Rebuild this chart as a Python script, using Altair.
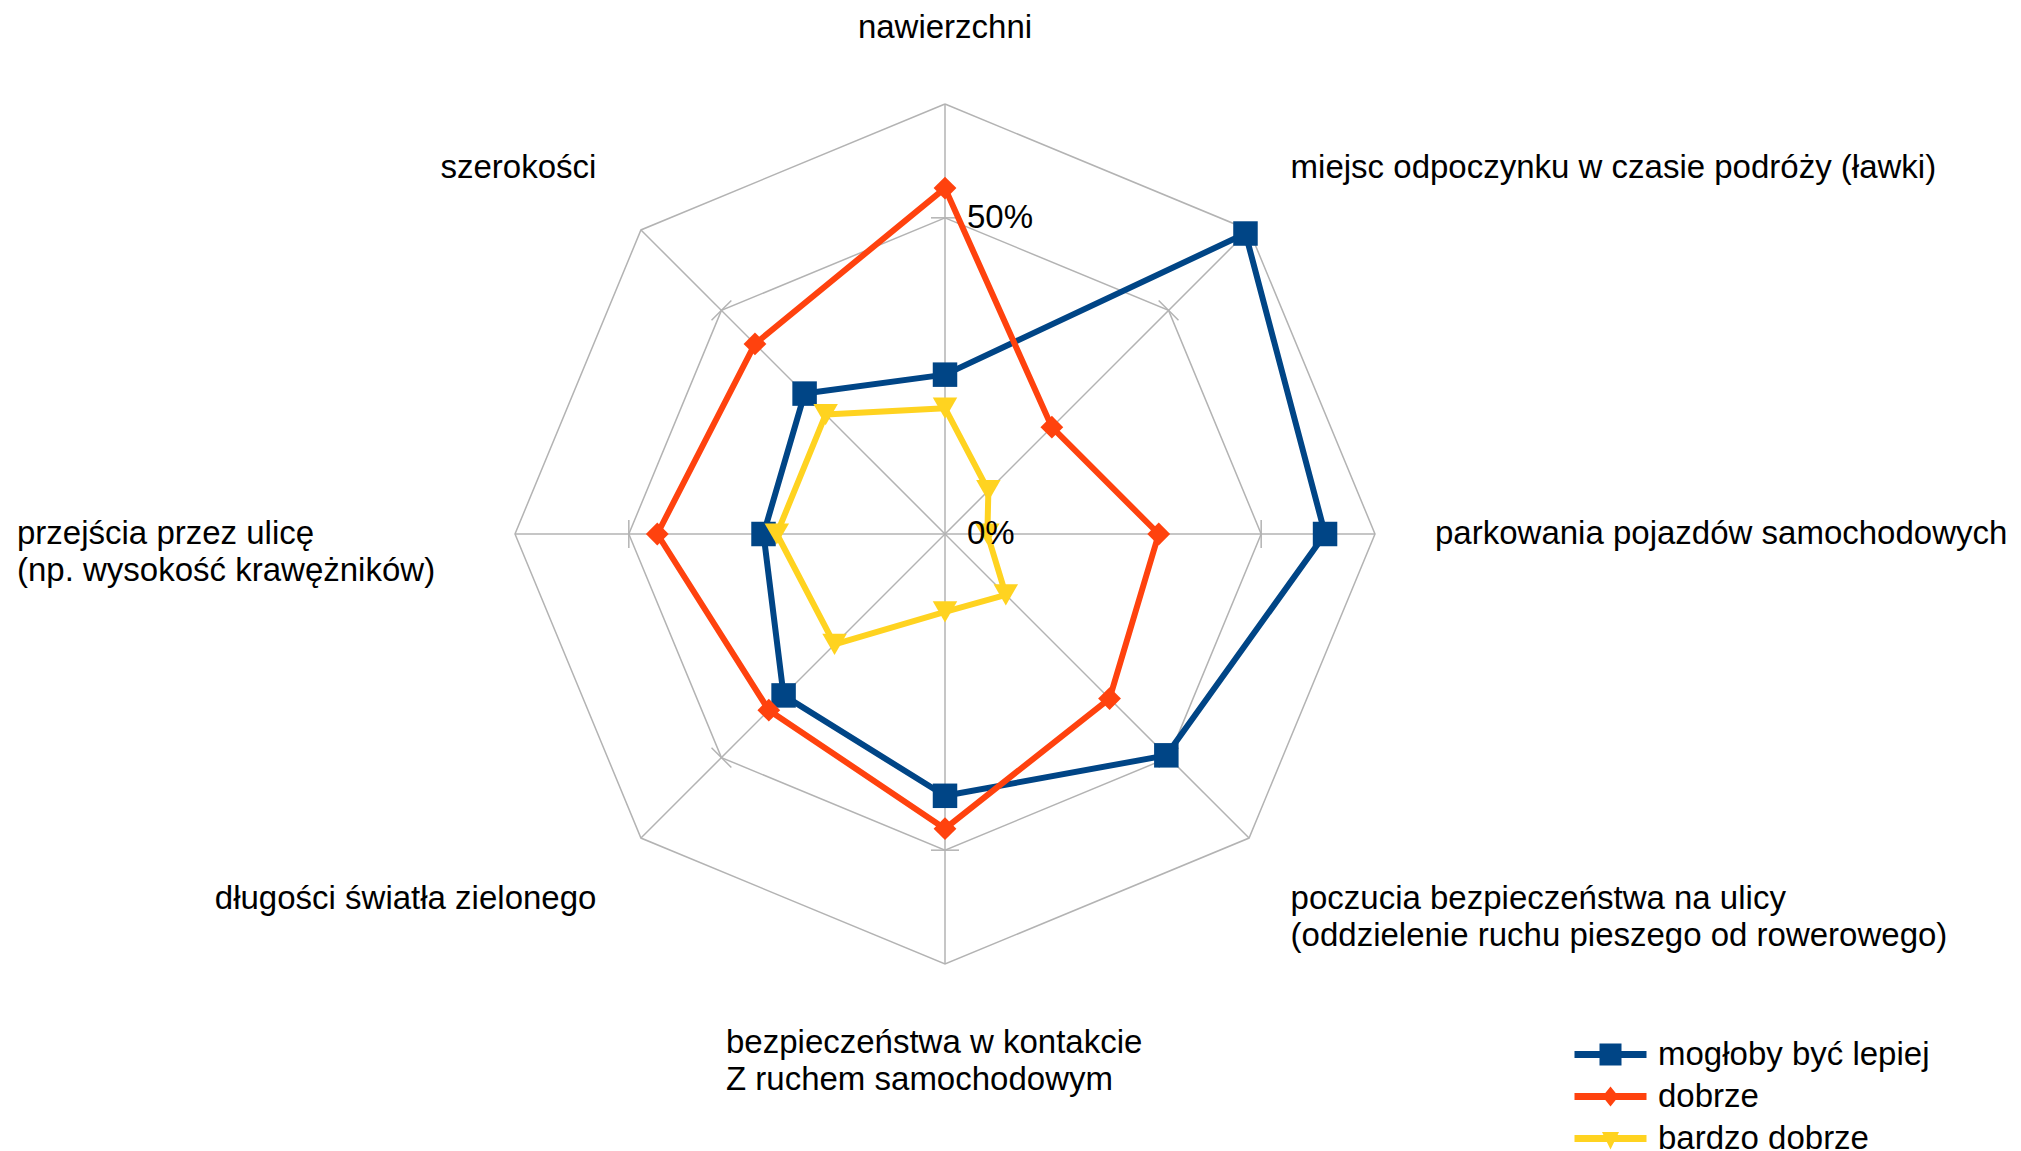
import math
import altair as alt
import pandas as pd

# ---------------- data ----------------
CATEGORIES = [
    "nawierzchni",
    "miejsc odpoczynku w czasie podróży (ławki)",
    "parkowania pojazdów samochodowych",
    "poczucia bezpieczeństwa na ulicy\n(oddzielenie ruchu pieszego od rowerowego)",
    "bezpieczeństwa w kontakcie\nZ ruchem samochodowym",
    "długości światła zielonego",
    "przejścia przez ulicę\n(np. wysokość krawężników)",
    "szerokości",
]
SERIES = ["mogłoby być lepiej", "dobrze", "bardzo dobrze"]
VALUES_LEPIEJ = [0.252, 0.672, 0.601, 0.495, 0.414, 0.361, 0.287, 0.314]
VALUES_DOBRZE = [0.547, 0.239, 0.338, 0.368, 0.466, 0.394, 0.455, 0.425]
VALUES_BARDZO = [0.199, 0.097, 0.067, 0.136, 0.123, 0.247, 0.266, 0.267]
TICK_VALUES = [0.0, 0.5]
TICK_LABELS = ["0%", "50%"]
GRID_LEVELS = [0.5, 0.68]
AXIS_MAX = 0.68

# ---------------- styles / layout ----------------
COLORS = ["#004586", "#ff420e", "#ffd320"]
MARKERS = ["square", "diamond", "triangle-down"]
MARKER_SIZES = [600, 520, 600]
GRID_COLOR = "#b3b3b3"
FONT = "Liberation Sans"
FS = 33
W, H = 2005, 1143
CX, CY = 937, 526          # centre of the radar inside the plot area (px)
R_PX = 430                 # pixel radius of the outer ring
S = R_PX / AXIS_MAX
LABEL_R = 493 / S
TICK_HALF = 14 / S
# align, baseline, dx, dy per category label
LABEL_STYLE = [
    ("center", "bottom", 0, 4),
    ("left", "bottom", -3, 0),
    ("left", "middle", -3, 0),
    ("left", "top", -3, 0),
    ("left", "top", -219, 0),
    ("right", "top", 0, 0),
    ("left", "middle", -435, 0),
    ("right", "bottom", 0, 0),
]
LINE = "M-3.6,-0.35H3.6V0.35H-3.6Z"
LEGEND_PATHS = [
    LINE + "M-1.1,-1.1H1.1V1.1H-1.1Z",
    LINE + "M0,-1L0.8,0L0,1L-0.8,0Z",
    LINE + "M-0.85,-0.65L0.85,-0.65L0,1.1Z",
]
LEG = dict(
    title=None, orient="none", legendX=1586, legendY=1030,
    symbolSize=400, labelOffset=31, labelFont=FONT, labelFontSize=FS,
    labelColor="#000000", labelLimit=0, rowPadding=8, padding=0,
    symbolStrokeWidth=0, symbolOpacity=1,
)

N = len(CATEGORIES)
xscale = alt.Scale(domain=[-CX / S, (W - CX) / S], nice=False, zero=False)
yscale = alt.Scale(domain=[-(H - CY) / S, CY / S], nice=False, zero=False)
cscale = alt.Scale(domain=SERIES, range=COLORS)
ANG = f"datum.idx * 2 * PI / {N}"


def X(f):
    return alt.X(f"{f}:Q", scale=xscale, axis=None)


def Y(f):
    return alt.Y(f"{f}:Q", scale=yscale, axis=None)


# series table
rows = []
for s, vals in zip(SERIES, [VALUES_LEPIEJ, VALUES_DOBRZE, VALUES_BARDZO]):
    for k in range(N + 1):
        rows.append({"series": s, "idx": k, "value": vals[k % N]})
df = pd.DataFrame(rows)

grid_df = pd.DataFrame([{"level": lv, "idx": k} for lv in GRID_LEVELS for k in range(N + 1)])
spoke_df = pd.DataFrame({"idx": list(range(N))})
tick_df = pd.DataFrame({"value": TICK_VALUES, "label": TICK_LABELS})
cat_df = pd.DataFrame({"idx": list(range(N)), "label": CATEGORIES})

layers = []

# grid rings
layers.append(
    alt.Chart(grid_df)
    .transform_calculate(ang=ANG)
    .transform_calculate(gx="datum.level*sin(datum.ang)", gy="datum.level*cos(datum.ang)")
    .mark_line(color=GRID_COLOR, strokeWidth=1.5)
    .encode(x=X("gx"), y=Y("gy"), detail="level:N", order="idx:Q")
)
# spokes
layers.append(
    alt.Chart(spoke_df)
    .transform_calculate(ang=ANG)
    .transform_calculate(
        x0="0", y0="0",
        x1=f"{AXIS_MAX}*sin(datum.ang)", y1=f"{AXIS_MAX}*cos(datum.ang)",
    )
    .mark_rule(color=GRID_COLOR, strokeWidth=1.5)
    .encode(x=X("x0"), y=Y("y0"), x2="x1:Q", y2="y1:Q")
)
# small ticks at 50 %
layers.append(
    alt.Chart(spoke_df)
    .transform_calculate(ang=ANG)
    .transform_calculate(
        t0x=f"{TICK_VALUES[1]}*sin(datum.ang) - {TICK_HALF}*cos(datum.ang)",
        t0y=f"{TICK_VALUES[1]}*cos(datum.ang) + {TICK_HALF}*sin(datum.ang)",
        t1x=f"{TICK_VALUES[1]}*sin(datum.ang) + {TICK_HALF}*cos(datum.ang)",
        t1y=f"{TICK_VALUES[1]}*cos(datum.ang) - {TICK_HALF}*sin(datum.ang)",
    )
    .mark_rule(color=GRID_COLOR, strokeWidth=1.5)
    .encode(x=X("t0x"), y=Y("t0y"), x2="t1x:Q", y2="t1y:Q")
)

# series: line then markers, in series order
base = (
    alt.Chart(df)
    .transform_calculate(ang=ANG)
    .transform_calculate(px="datum.value*sin(datum.ang)", py="datum.value*cos(datum.ang)")
)
for s, shp, sz in zip(SERIES, MARKERS, MARKER_SIZES):
    sub = base.transform_filter(alt.datum.series == s)
    layers.append(
        sub.mark_line(strokeWidth=6, strokeJoin="round").encode(
            x=X("px"), y=Y("py"), order="idx:Q",
            color=alt.Color("series:N", scale=cscale, legend=None),
        )
    )
    layers.append(
        sub.transform_filter(f"datum.idx < {N}")
        .mark_point(shape=shp, size=sz, filled=True, opacity=1)
        .encode(x=X("px"), y=Y("py"), color=alt.Color("series:N", scale=cscale, legend=None))
    )

# radial axis labels
layers.append(
    alt.Chart(tick_df)
    .transform_calculate(tx="0", ty="datum.value")
    .mark_text(align="left", baseline="middle", dx=22, font=FONT, fontSize=FS, color="#000000")
    .encode(x=X("tx"), y=Y("ty"), text="label:N")
)

# category labels
for i, (al, bl, dx, dy) in enumerate(LABEL_STYLE):
    layers.append(
        alt.Chart(cat_df)
        .transform_filter(f"datum.idx == {i}")
        .transform_calculate(ang=ANG)
        .transform_calculate(lx=f"{LABEL_R}*sin(datum.ang)", ly=f"{LABEL_R}*cos(datum.ang)")
        .mark_text(align=al, baseline=bl, dx=dx, dy=dy, font=FONT, fontSize=FS,
                   lineBreak="\n", lineHeight=37, color="#000000")
        .encode(x=X("lx"), y=Y("ly"), text="label:N")
    )

# legend carrier (no visible marks)
layers.append(
    alt.Chart(df)
    .transform_filter("false")
    .mark_point(filled=True, opacity=1)
    .encode(
        color=alt.Color("series:N", scale=alt.Scale(domain=SERIES, range=COLORS),
                        legend=alt.Legend(**LEG)),
        shape=alt.Shape("series:N", scale=alt.Scale(domain=SERIES, range=LEGEND_PATHS),
                        legend=alt.Legend(**LEG)),
    )
)

chart = (
    alt.layer(*layers)
    .resolve_scale(color="independent", shape="independent")
    .properties(width=W, height=H, padding=0, autosize=alt.AutoSizeParams(type="none"))
    .configure_view(strokeWidth=0)
)

chart.save("out.html", embed_options={"renderer": "svg", "actions": False})
